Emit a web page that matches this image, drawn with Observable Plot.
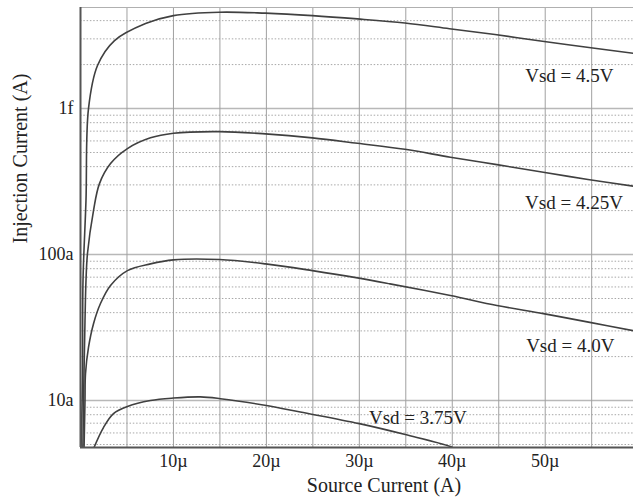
<!DOCTYPE html>
<html>
<head>
<meta charset="utf-8">
<script src="https://cdn.jsdelivr.net/npm/d3@7"></script>
<script src="https://cdn.jsdelivr.net/npm/@observablehq/plot@0.6"></script>
<style>
  html, body { margin: 0; padding: 0; background: #fff; }
</style>
</head>
<body>
<div id="chart"></div>
<script>
// ---- data (source current in µA, injection current in A) ----
const series = ["4.5V", "4.25V", "4.0V", "3.75V"];

const x_45 = [0.05, 0.215, 0.27, 0.59, 0.86, 1.83, 3.66, 7.0, 10, 14.95, 19.9, 24.95, 29.8, 34.9, 39.7, 44.6, 49.7, 54.5, 59.5];
const y_45 = [4.5e-18, 1.37e-17, 6.64e-17, 2.34e-16, 1.0e-15, 1.97e-15, 2.92e-15, 3.82e-15, 4.33e-15, 4.57e-15, 4.50e-15, 4.33e-15, 4.11e-15, 3.85e-15, 3.52e-15, 3.21e-15, 2.89e-15, 2.63e-15, 2.39e-15];

const x_425 = [0.25, 0.376, 0.484, 0.591, 0.753, 1.40, 2.04, 3.23, 5.05, 7.53, 10, 14.95, 19.9, 24.95, 29.8, 34.9, 39.8, 44.8, 49.8, 54.6, 59.5];
const y_425 = [4.5e-18, 1.53e-17, 3.53e-17, 6.64e-17, 1.02e-16, 2.0e-16, 3.06e-16, 4.2e-16, 5.32e-16, 6.3e-16, 6.78e-16, 6.95e-16, 6.71e-16, 6.3e-16, 5.78e-16, 5.26e-16, 4.64e-16, 4.13e-16, 3.66e-16, 3.27e-16, 2.94e-16];

const x_40 = [0.376, 0.484, 0.538, 0.86, 1.40, 2.15, 3.23, 5.05, 7.53, 10, 14.95, 19.9, 24.95, 29.8, 33.3, 39.8, 44.8, 49.8, 54.8, 59.5];
const y_40 = [4.5e-18, 1.0e-17, 1.53e-17, 2.31e-17, 3.36e-17, 4.62e-17, 6.14e-17, 7.76e-17, 8.63e-17, 9.2e-17, 9.25e-17, 8.63e-17, 7.76e-17, 6.92e-17, 6.3e-17, 5.24e-17, 4.48e-17, 3.94e-17, 3.43e-17, 3.01e-17];

const x_375 = [1.35, 2.47, 3.55, 5.05, 7.53, 10, 12.9, 15.05, 20, 23.65, 30, 34.95, 39.8, 40.4];
const y_375 = [4.6e-18, 6.53e-18, 8.14e-18, 9.1e-18, 1.0e-17, 1.04e-17, 1.06e-17, 1.03e-17, 9.25e-18, 8.34e-18, 6.95e-18, 5.85e-18, 4.84e-18, 4.6e-18];

const curveLabels = ["Vsd = 4.5V", "Vsd = 4.25V", "Vsd = 4.0V", "Vsd = 3.75V"];
const labelX = [52.6, 53.1, 52.7, 36.3];
const labelY = [1.68e-15, 2.27e-16, 2.38e-17, 7.65e-18];

const xTickValues = [10, 20, 30, 40, 50];
const xGridValues = [5, 10, 15, 20, 25, 30, 35, 40, 45, 50, 55];
const yTickValues = [1e-17, 1e-16, 1e-15];
const yTickLabels = ["10a", "100a", "1f"];

const xDomain = [0, 59.5];
const yDomain = [4.77e-18, 4.92e-15];

// ---- build tables ----
const xs = [x_45, x_425, x_40, x_375];
const ys = [y_45, y_425, y_40, y_375];
const rows = [];
series.forEach((s, k) => xs[k].forEach((x, i) => rows.push({series: s, x, y: ys[k][i]})));
const labels = curveLabels.map((t, i) => ({text: t, x: labelX[i], y: labelY[i]}));
const yLabelMap = new Map(yTickValues.map((v, i) => [v, yTickLabels[i]]));
const minorTicks = d3.scaleLog().domain(yDomain).ticks()
  .filter(v => !yTickValues.some(d => Math.abs(v / d - 1) < 1e-9));

const chart = Plot.plot({
  width: 633,
  height: 501,
  marginLeft: 80,
  marginRight: 0,
  marginTop: 7,
  marginBottom: 54,
  style: {
    fontFamily: "'Liberation Serif', 'DejaVu Serif', serif",
    fontSize: "18px",
    color: "#222",
    background: "#fff"
  },
  x: {domain: xDomain},
  y: {type: "log", domain: yDomain},
  marks: [
    Plot.ruleY(minorTicks, {stroke: "#a8a8a8", strokeWidth: 1, strokeDasharray: "1.5,1.8"}),
    Plot.ruleY(yTickValues, {stroke: "#b8b8b8", strokeWidth: 1.6}),
    Plot.ruleX(xGridValues, {stroke: "#a0a0a0", strokeWidth: 1}),
    Plot.ruleY([yDomain[1]], {stroke: "#b0b0b0", strokeWidth: 1}),
    Plot.line(rows, {x: "x", y: "y", z: "series", stroke: "#404040", strokeWidth: 1.6, curve: "catmull-rom", clip: true}),
    Plot.ruleX([xDomain[0]], {stroke: "#555", strokeWidth: 2}),
    Plot.ruleY([yDomain[0]], {stroke: "#555", strokeWidth: 2}),
    Plot.text(labels, {x: "x", y: "y", text: "text", fontSize: 19, fill: "#222"}),
    Plot.axisX({ticks: xTickValues, tickFormat: d => d + "µ", tickSize: 0, tickPadding: 7, label: null}),
    Plot.axisY({ticks: yTickValues, tickFormat: d => yLabelMap.get(d), tickSize: 0, tickPadding: 7, label: null}),
    Plot.text(["Source Current (A)"], {frameAnchor: "bottom", dx: 27, dy: 44, fontSize: 20, fill: "#222"}),
    Plot.text(["Injection Current (A)"], {frameAnchor: "left", rotate: -90, dx: -60, dy: 16, fontSize: 20, fill: "#222"})
  ]
});
document.getElementById("chart").appendChild(chart);
</script>
</body>
</html>
